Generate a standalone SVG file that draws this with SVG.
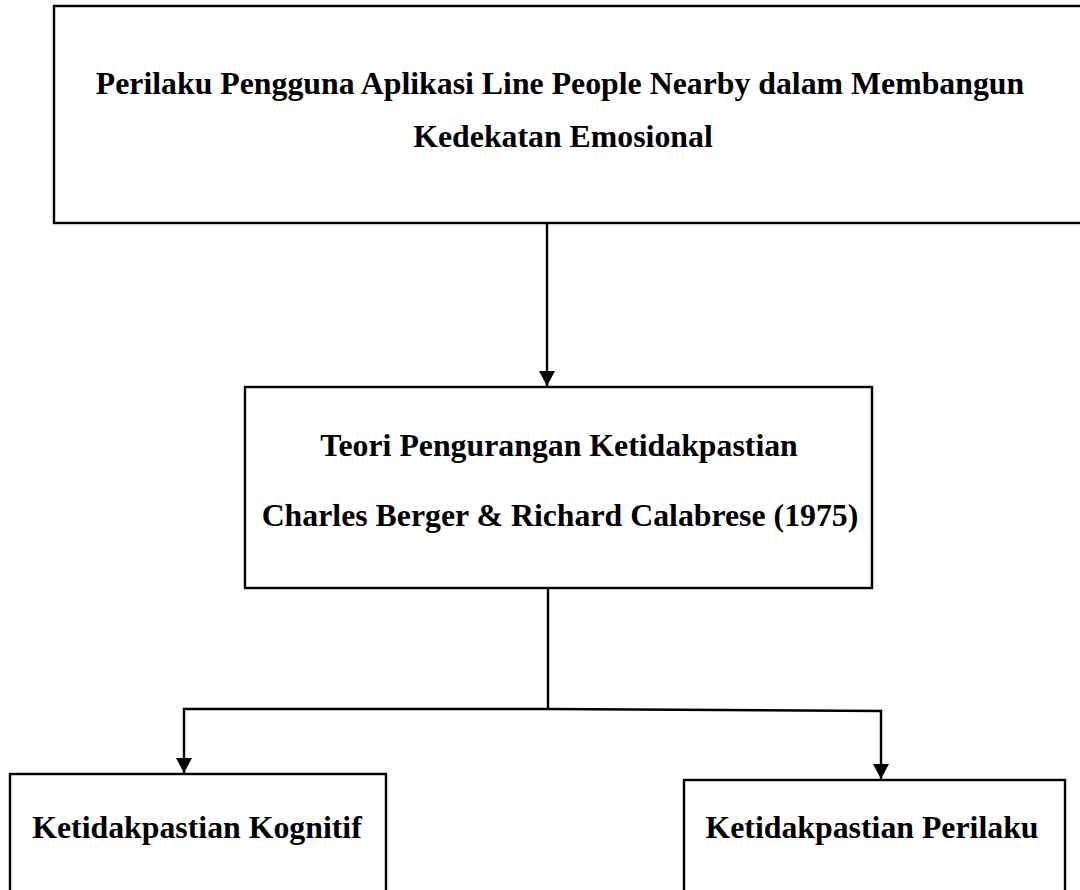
<svg xmlns="http://www.w3.org/2000/svg" width="1080" height="890" viewBox="0 0 1080 890">
  <style>
    .box { fill: #ffffff; stroke: #000000; stroke-width: 2.4; }
    .lbl { font-family: "Liberation Serif", "Times New Roman", serif; font-weight: bold; font-size: 31.8px; fill: #000000; text-anchor: middle; }
    .conn { fill: none; stroke: #000000; stroke-width: 2.4; }
  </style>
  <defs>
    <marker id="arrow" markerUnits="userSpaceOnUse" markerWidth="17" markerHeight="17" refX="15" refY="8" orient="auto">
      <path d="M0,0 L15,8 L0,16 z" fill="#000000"/>
    </marker>
  </defs>
  <rect x="0" y="0" width="1080" height="890" fill="#ffffff"/>

  <g id="node-top">
    <rect class="box" x="54" y="6" width="1040" height="217"/>
    <text class="lbl" x="560" y="94">Perilaku Pengguna Aplikasi Line People Nearby dalam Membangun</text>
    <text class="lbl" x="563" y="147">Kedekatan Emosional</text>
  </g>

  <g id="node-teori">
    <rect class="box" x="245" y="387" width="627" height="201"/>
    <text class="lbl" x="559" y="456">Teori Pengurangan Ketidakpastian</text>
    <text class="lbl" x="560" y="526">Charles Berger &amp; Richard Calabrese (1975)</text>
  </g>

  <g id="node-kognitif">
    <rect class="box" x="10" y="774" width="376" height="130"/>
    <text class="lbl" x="197" y="838">Ketidakpastian Kognitif</text>
  </g>

  <g id="node-perilaku">
    <rect class="box" x="684" y="780" width="381" height="124"/>
    <text class="lbl" x="872" y="838">Ketidakpastian Perilaku</text>
  </g>

  <g id="connectors">
    <path class="conn" d="M547,223 V386" marker-end="url(#arrow)"/>
    <path class="conn" d="M548,588 V709"/>
    <path class="conn" d="M548,709 H184 V773" marker-end="url(#arrow)"/>
    <path class="conn" d="M548,709 L881,711 V779" marker-end="url(#arrow)"/>
  </g>
</svg>
